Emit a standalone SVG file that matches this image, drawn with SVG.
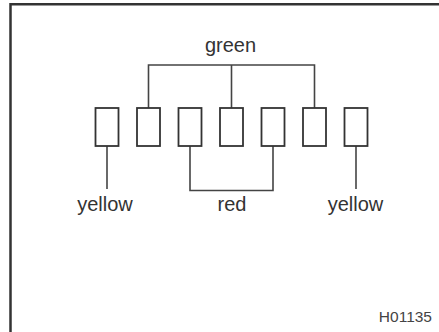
<svg xmlns="http://www.w3.org/2000/svg" width="439" height="332" viewBox="0 0 439 332">
<style>
.box{fill:#fff;stroke:#333;stroke-width:1.8}
.ln{fill:none;stroke:#444;stroke-width:1.6}
.lbl{font-family:"Liberation Sans",Arial,sans-serif;font-size:20px;fill:#333;text-anchor:middle}
.code{font-family:"Liberation Sans",Arial,sans-serif;font-size:15.5px;fill:#444;text-anchor:end}
</style>
<rect width="439" height="332" fill="#fff"/>
<path d="M10.5 332 V4.2 H439" fill="none" stroke="#333" stroke-width="2.5"/>
<g id="connectors">
<path class="ln" d="M148.5 108 V65 H314.5 V108 M231.5 65 V108"/>
<path class="ln" d="M190 146 V190.5 H273 V146"/>
<path class="ln" d="M107 146 V189"/>
<path class="ln" d="M356 146 V189"/>
</g>
<g id="box1"><rect class="box" x="95.5" y="108" width="23" height="38"/></g>
<g id="box2"><rect class="box" x="137" y="108" width="23" height="38"/></g>
<g id="box3"><rect class="box" x="178.5" y="108" width="23" height="38"/></g>
<g id="box4"><rect class="box" x="220" y="108" width="23" height="38"/></g>
<g id="box5"><rect class="box" x="261.5" y="108" width="23" height="38"/></g>
<g id="box6"><rect class="box" x="303" y="108" width="23" height="38"/></g>
<g id="box7"><rect class="box" x="344.5" y="108" width="23" height="38"/></g>
<g id="label-green"><text class="lbl" x="230.5" y="52">green</text></g>
<g id="label-yellow-left"><text class="lbl" x="105" y="211">yellow</text></g>
<g id="label-red"><text class="lbl" x="232" y="211">red</text></g>
<g id="label-yellow-right"><text class="lbl" x="355.5" y="211">yellow</text></g>
<g id="label-code"><text class="code" x="432" y="322">H01135</text></g>
</svg>
